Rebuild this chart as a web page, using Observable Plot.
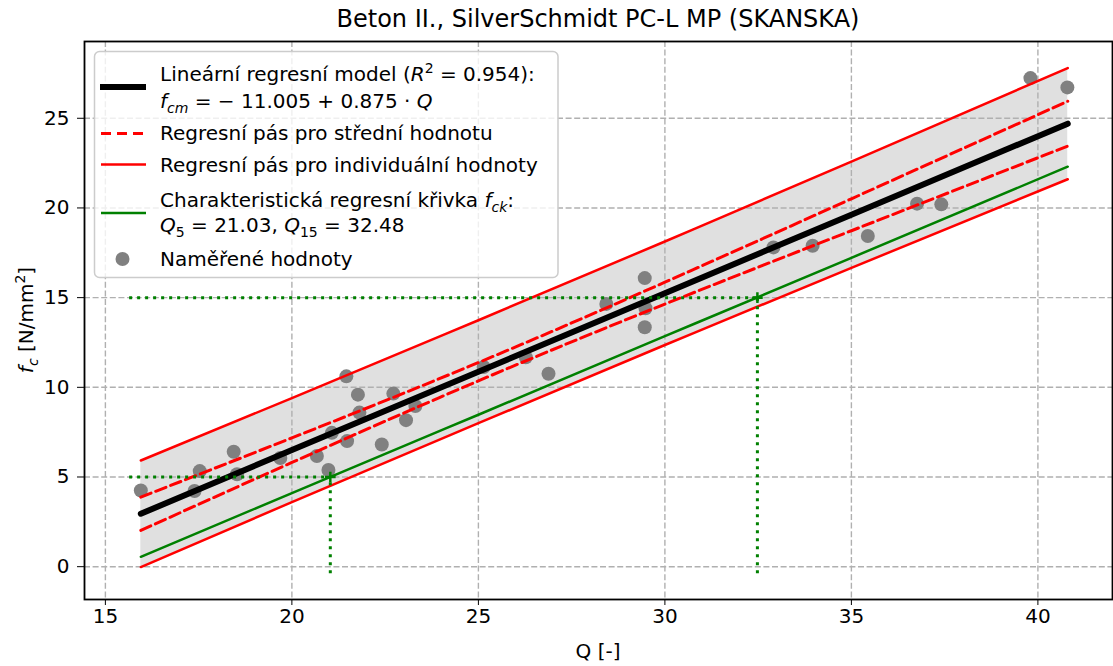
<!DOCTYPE html>
<html><head><meta charset="utf-8">
<script src="https://cdn.jsdelivr.net/npm/d3@7"></script>
<script src="https://cdn.jsdelivr.net/npm/@observablehq/plot@0.6"></script>
<style>
body{margin:0;background:#fff;}
#wrap{position:relative;width:1113px;height:666px;font-family:"DejaVu Sans",sans-serif;overflow:hidden;}
#chart{position:absolute;left:0;top:39px;}
#overlay{position:absolute;left:0;top:0;pointer-events:none;}
</style></head><body>
<div id="wrap"><div id="chart"></div><svg id="overlay" width="1113" height="666"></svg></div>
<script>
// measured points
const Q_meas = [15.95, 17.39, 17.53, 18.44, 18.53, 19.69, 20.67, 20.98, 21.07, 21.46, 21.48, 21.77, 21.81, 22.41, 22.72, 23.06, 23.31, 25.14, 26.27, 26.88, 28.43, 29.46, 29.48, 29.46, 32.91, 33.96, 35.44, 36.76, 37.41, 39.80, 40.79];
const fc_meas = [4.25, 4.22, 5.33, 6.41, 5.15, 6.06, 6.17, 5.39, 7.46, 10.61, 7.00, 9.59, 8.59, 6.81, 9.65, 8.17, 8.96, 11.13, 11.68, 10.76, 14.65, 16.09, 14.41, 13.35, 17.80, 17.89, 18.44, 20.24, 20.20, 27.24, 26.72];
// curves read at these Q values
const Q_curve   = [15.95, 20, 25, 30, 35, 40.8];
const f_mean    = [2.95, 6.50, 10.87, 15.25, 19.62, 24.70];
const f_conf_hi = [3.88, 7.18, 11.38, 15.86, 20.51, 25.95];
const f_conf_lo = [2.02, 5.81, 10.36, 14.64, 18.73, 23.45];
const f_pred_hi = [5.92, 9.40, 13.74, 18.13, 22.58, 27.80];
const f_pred_lo = [-0.02, 3.60, 8.00, 12.36, 16.66, 21.60];
const f_char    = [0.55, 4.10, 8.47, 12.85, 17.22, 22.30];
// characteristic values
const Q5 = 21.03, Q15 = 32.48;
const guideLevels = [5, 15];
const guideQ = [Q5, Q15];
const guideStart = 15.65, guideBottom = -0.4;
const xTicks = [15, 20, 25, 30, 35, 40];
const yTicks = [0, 5, 10, 15, 20, 25];

const points = Q_meas.map((q, i) => ({Q: q, f: fc_meas[i]}));
const curves = Q_curve.map((q, i) => ({Q: q, mean: f_mean[i], chi: f_conf_hi[i], clo: f_conf_lo[i], phi: f_pred_hi[i], plo: f_pred_lo[i], ch: f_char[i]}));
const guides = guideQ.map((q, i) => ({Q: q, f: guideLevels[i]}));

const plusSymbol = {draw(ctx, size) { const r = Math.sqrt(size) / 2; ctx.moveTo(-r, 0); ctx.lineTo(r, 0); ctx.moveTo(0, -r); ctx.lineTo(0, r); }};
const grid = {stroke: "#b0b0b0", strokeOpacity: 1, strokeWidth: 1.4, strokeDasharray: "6,2.6"};

const chart = Plot.plot({
  width: 1113, height: 627,
  marginTop: 2, marginBottom: 67, marginLeft: 84, marginRight: 1,
  style: {fontFamily: "DejaVu Sans", fontSize: "20px", color: "#000", background: "transparent"},
  x: {domain: [14.44, 42.0]},
  y: {domain: [-1.83, 29.28]},
  marks: [
    Plot.areaY(curves, {x: "Q", y1: "plo", y2: "phi", fill: "#e0e0e0", curve: "natural"}),
    Plot.gridX(xTicks, grid),
    Plot.gridY(yTicks, grid),
    Plot.dot(points, {x: "Q", y: "f", r: 7, fill: "#808080", stroke: "none"}),
    Plot.line(curves, {x: "Q", y: "phi", stroke: "#ff0000", strokeWidth: 2.5, curve: "natural"}),
    Plot.line(curves, {x: "Q", y: "plo", stroke: "#ff0000", strokeWidth: 2.5, curve: "natural"}),
    Plot.line(curves, {x: "Q", y: "chi", stroke: "#ff0000", strokeWidth: 3, strokeDasharray: "11,5", curve: "natural"}),
    Plot.line(curves, {x: "Q", y: "clo", stroke: "#ff0000", strokeWidth: 3, strokeDasharray: "11,5", curve: "natural"}),
    Plot.line(curves, {x: "Q", y: "ch", stroke: "#008000", strokeWidth: 2.5, curve: "natural"}),
    Plot.line(curves, {x: "Q", y: "mean", stroke: "#000", strokeWidth: 6}),
    Plot.ruleY(guides, {y: "f", x1: guideStart, x2: "Q", stroke: "#008000", strokeWidth: 3, strokeDasharray: "3,5"}),
    Plot.ruleX(guides, {x: "Q", y1: guideBottom, y2: "f", stroke: "#008000", strokeWidth: 3, strokeDasharray: "3,5"}),
    Plot.dot(guides, {x: "Q", y: "f", symbol: plusSymbol, r: 6, stroke: "#008000", strokeWidth: 2.5, fill: "none"}),
    Plot.axisX(xTicks, {tickSize: 6, tickPadding: 3, label: null, fontSize: 20}),
    Plot.axisY(yTicks, {tickSize: 7, tickPadding: 8, label: null, fontSize: 20}),
    Plot.frame({stroke: "#000", strokeWidth: 1.8})
  ]
});
document.getElementById("chart").appendChild(chart);

// overlay: title, axis labels, legend
const ov = d3.select("#overlay").style("font-family", "DejaVu Sans").style("font-size", "20px");
function rich(sel, parts) {
  // parts: [text, style] with style flags: i (italic), sub, sup
  let pending = 0;
  parts.forEach(([t, s]) => {
    const ts = sel.append("tspan").text(t);
    let dy = pending; pending = 0;
    if (s && s.includes("i")) ts.attr("font-style", "italic");
    if (s && s.includes("sub")) { ts.attr("font-size", "14px"); dy += 5; pending = -5; }
    if (s && s.includes("sup")) { ts.attr("font-size", "14px"); dy += -8; pending = 8; }
    if (dy) ts.attr("dy", dy);
  });
}
ov.append("text").attr("x", 598).attr("y", 27).attr("text-anchor", "middle").attr("font-size", "24px").text("Beton II., SilverSchmidt PC-L MP (SKANSKA)");
ov.append("text").attr("x", 598).attr("y", 658).attr("text-anchor", "middle").text("Q [-]");
const yl = ov.append("text").attr("transform", "translate(33,320) rotate(-90)").attr("text-anchor", "middle");
rich(yl, [["f", "i"], ["c", "i sub"], [" [N/mm", ""], ["2", "sup"], ["]", ""]]);

const lg = ov.append("g");
lg.append("rect").attr("x", 94.5).attr("y", 51.5).attr("width", 463.5).attr("height", 226).attr("rx", 5)
  .attr("fill", "#fff").attr("fill-opacity", 0.8).attr("stroke", "#cccccc").attr("stroke-width", 1.5);
lg.append("line").attr("x1", 100).attr("x2", 146).attr("y1", 87).attr("y2", 87).attr("stroke", "#000").attr("stroke-width", 6);
rich(lg.append("text").attr("x", 160).attr("y", 81), [["Lineární regresní model (", ""], ["R", "i"], ["2", "sup"], [" = 0.954):", ""]]);
rich(lg.append("text").attr("x", 160).attr("y", 108), [["f", "i"], ["cm", "i sub"], [" = − 11.005 + 0.875 · ", ""], ["Q", "i"]]);
lg.append("line").attr("x1", 101).attr("x2", 146).attr("y1", 133.5).attr("y2", 133.5).attr("stroke", "#ff0000").attr("stroke-width", 3).attr("stroke-dasharray", "10,6");
lg.append("text").attr("x", 160).attr("y", 140).text("Regresní pás pro střední hodnotu");
lg.append("line").attr("x1", 101).attr("x2", 146).attr("y1", 164.5).attr("y2", 164.5).attr("stroke", "#ff0000").attr("stroke-width", 2.5);
lg.append("text").attr("x", 160).attr("y", 171.5).text("Regresní pás pro individuální hodnoty");
lg.append("line").attr("x1", 101).attr("x2", 146).attr("y1", 213).attr("y2", 213).attr("stroke", "#008000").attr("stroke-width", 2.5);
rich(lg.append("text").attr("x", 160).attr("y", 207), [["Charakteristická regresní křivka ", ""], ["f", "i"], ["ck", "i sub"], [":", ""]]);
rich(lg.append("text").attr("x", 160).attr("y", 232), [["Q", "i"], ["5", "sub"], [" = 21.03, ", ""], ["Q", "i"], ["15", "sub"], [" = 32.48", ""]]);
lg.append("circle").attr("cx", 122.5).attr("cy", 259).attr("r", 7).attr("fill", "#808080");
lg.append("text").attr("x", 160).attr("y", 265.5).text("Naměřené hodnoty");
</script>
</body></html>
